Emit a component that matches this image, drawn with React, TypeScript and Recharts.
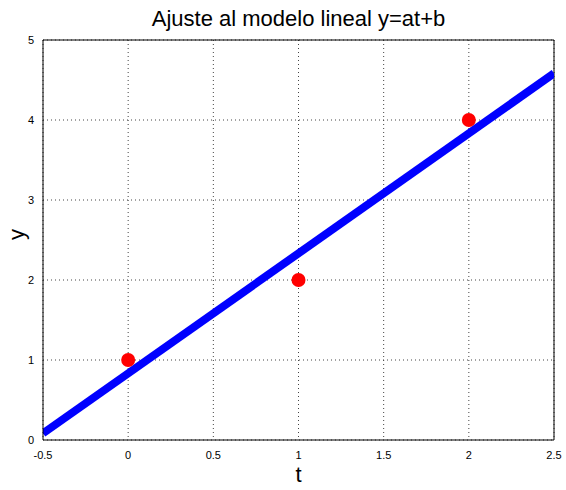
import React from 'react';
import { ComposedChart, Line, Scatter, XAxis, YAxis, CartesianGrid, ReferenceLine, Label } from 'recharts';

const xTicks = [-0.5, 0, 0.5, 1, 1.5, 2, 2.5];
const yTicks = [0, 1, 2, 3, 4, 5];
const pointT = [0, 1, 2];
const pointY = [1, 2, 4];
const fitT = [-0.5, 2.5];
const fitY = [0.0833, 4.5833];

const points = pointT.map((t, i) => ({ t, y: pointY[i] }));
const fit = fitT.map((t, i) => ({ t, fit: fitY[i] }));

const font = '"Liberation Sans", Arial, sans-serif';

export default function App() {
  return (
    <div style={{ position: 'absolute', left: 0, top: 0, width: 566, height: 490, background: '#fff', fontFamily: font }}>
      <div style={{ position: 'absolute', left: 43, width: 511, top: 6, textAlign: 'center', fontSize: 22, color: '#000' }}>
        Ajuste al modelo lineal y=at+b
      </div>
      <ComposedChart width={566} height={490} margin={{ top: 40, right: 12, left: 0, bottom: 0 }}>
        <CartesianGrid stroke="#444" strokeDasharray="1 3" horizontalValues={yTicks} verticalValues={xTicks} />
        <XAxis
          type="number"
          dataKey="t"
          domain={[-0.5, 2.5]}
          ticks={xTicks}
          allowDataOverflow
          height={50}
          tickLine={false}
          stroke="#000"
          tick={{ fill: '#000', fontSize: 11, fontFamily: font }}
          tickMargin={5}
          tickFormatter={(v: number) => String(v)}
        >
          <Label value="t" position="insideBottom" offset={8} style={{ fontSize: 22, fill: '#000', fontFamily: font }} />
        </XAxis>
        <YAxis
          type="number"
          domain={[0, 5]}
          ticks={yTicks}
          allowDataOverflow
          width={43}
          tickLine={false}
          stroke="#000"
          tick={{ fill: '#000', fontSize: 11, fontFamily: font }}
          tickMargin={3}
        >
          <Label value="y" angle={-90} position="insideLeft" offset={16} style={{ fontSize: 22, fill: '#000', fontFamily: font }} />
        </YAxis>
        <ReferenceLine y={5} stroke="#000" strokeWidth={1} />
        <ReferenceLine x={2.5} stroke="#000" strokeWidth={1} />
        <Line data={fit} dataKey="fit" stroke="#0000ff" strokeWidth={8} dot={false} isAnimationActive={false} type="linear" />
        <Scatter data={points} dataKey="y" fill="#ff0000" isAnimationActive={false} shape={(p: any) => <circle cx={p.cx} cy={p.cy} r={7} fill="#ff0000" />} />
      </ComposedChart>
    </div>
  );
}
